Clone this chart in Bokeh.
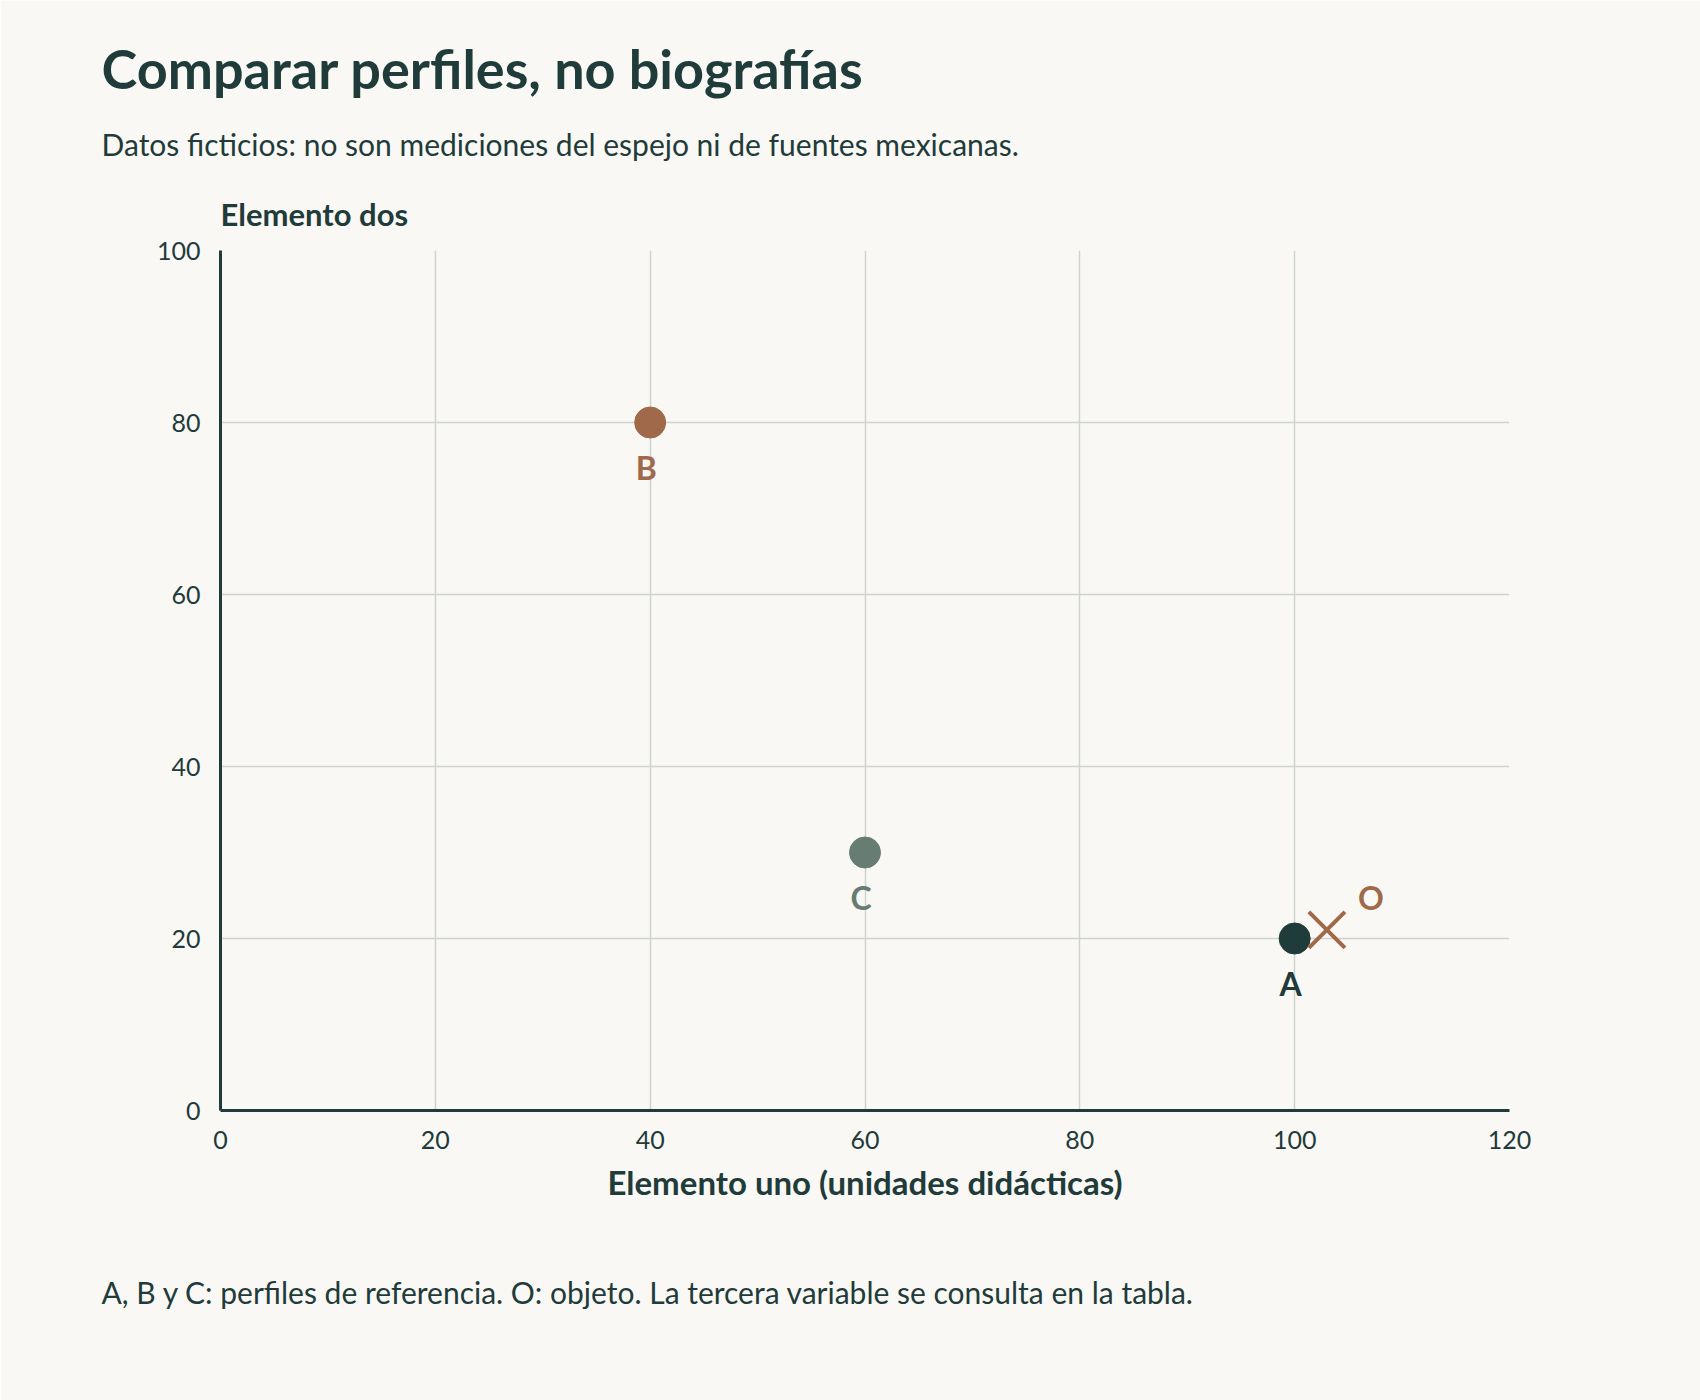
from bokeh.plotting import figure
from bokeh.models import Range1d, FixedTicker, Title, ColumnDataSource
from bokeh.core.properties import value
from bokeh.embed import file_html
from bokeh.resources import INLINE

# ---- data ----
profile_names = ["A", "B", "C"]
elemento_uno = [100, 40, 60]
elemento_dos = [20, 80, 30]
object_name = ["O"]
object_uno = [103]
object_dos = [21]
x_ticks = [0, 20, 40, 60, 80, 100, 120]
y_ticks = [0, 20, 40, 60, 80, 100]

# ---- styles ----
BG = "#f9f8f4"
DARK = "#1f3b3a"
BROWN = "#a0694a"
SAGE = "#677d73"
GRID = "#d0d4cf"
FONT = "Lato"
profile_colors = [DARK, BROWN, SAGE]

p = figure(width=1700, height=1400, output_backend="svg", toolbar_location=None,
           x_range=Range1d(0, 120), y_range=Range1d(0, 100),
           min_border_left=220, min_border_right=191, min_border_top=250,
           min_border_bottom=290, background_fill_color=BG,
           border_fill_color=BG, outline_line_color=None)

p.xgrid.ticker = FixedTicker(ticks=x_ticks)
p.ygrid.ticker = FixedTicker(ticks=y_ticks)
for g in (p.xgrid, p.ygrid):
    g.grid_line_color = GRID
    g.grid_line_width = 1.5

for ax, ticks in ((p.xaxis, x_ticks), (p.yaxis, y_ticks)):
    ax.ticker = FixedTicker(ticks=ticks)
    ax.axis_line_color = DARK
    ax.axis_line_width = 3
    ax.major_tick_line_color = None
    ax.minor_tick_line_color = None
    ax.major_tick_out = 0
    ax.major_tick_in = 0
    ax.major_label_text_font = FONT
    ax.major_label_text_font_size = "25px"
    ax.major_label_text_color = DARK
    ax.major_label_standoff = 20

p.xaxis.axis_label = "Elemento uno (unidades didácticas)"
p.xaxis.axis_label_text_font = FONT
p.xaxis.axis_label_text_font_size = "33px"
p.xaxis.axis_label_text_font_style = "bold"
p.xaxis.axis_label_text_color = DARK
p.xaxis.axis_label_standoff = 10

src = ColumnDataSource(dict(x=elemento_uno, y=elemento_dos, name=profile_names,
                            color=profile_colors))
p.scatter("x", "y", source=src, size=31, marker="circle",
          fill_color="color", line_color="color")
p.text("x", "y", text="name", source=src, text_color="color",
       text_font=value(FONT), text_font_style="bold", text_font_size="32px",
       text_align="center", text_baseline="middle", x_offset=-4, y_offset=45)

osrc = ColumnDataSource(dict(x=object_uno, y=object_dos, name=object_name))
p.scatter("x", "y", source=osrc, marker="x", size=51, line_color=BROWN,
          line_width=4)
p.text("x", "y", text="name", source=osrc, text_color=BROWN,
       text_font=value(FONT), text_font_style="bold", text_font_size="32px",
       text_align="center", text_baseline="middle", x_offset=44, y_offset=-32)

# main title (outermost)
p.title.text = "Comparar perfiles, no biografías"
p.title.align = "left"
p.title.offset = -119
p.title.text_font = FONT
p.title.text_font_size = "54px"
p.title.text_font_style = "bold"
p.title.text_color = DARK
p.title.standoff = 20

# inner titles: first added is closest to the frame
ydos = Title(text="Elemento dos", align="left", offset=0, text_font=FONT,
             text_font_size="31px", text_font_style="bold", text_color=DARK,
             standoff=36)
p.add_layout(ydos, "above")
sub = Title(text="Datos ficticios: no son mediciones del espejo ni de fuentes mexicanas.",
            align="left", offset=-119, text_font=FONT, text_font_size="30px",
            text_font_style="normal", text_color=DARK, standoff=26)
p.add_layout(sub, "above")

foot = Title(text="A, B y C: perfiles de referencia. O: objeto. La tercera variable se consulta en la tabla.",
             align="left", offset=-119, text_font=FONT, text_font_size="30px",
             text_font_style="normal", text_color=DARK, standoff=134)
p.add_layout(foot, "below")

open("out.html", "w").write(file_html(p, INLINE))
